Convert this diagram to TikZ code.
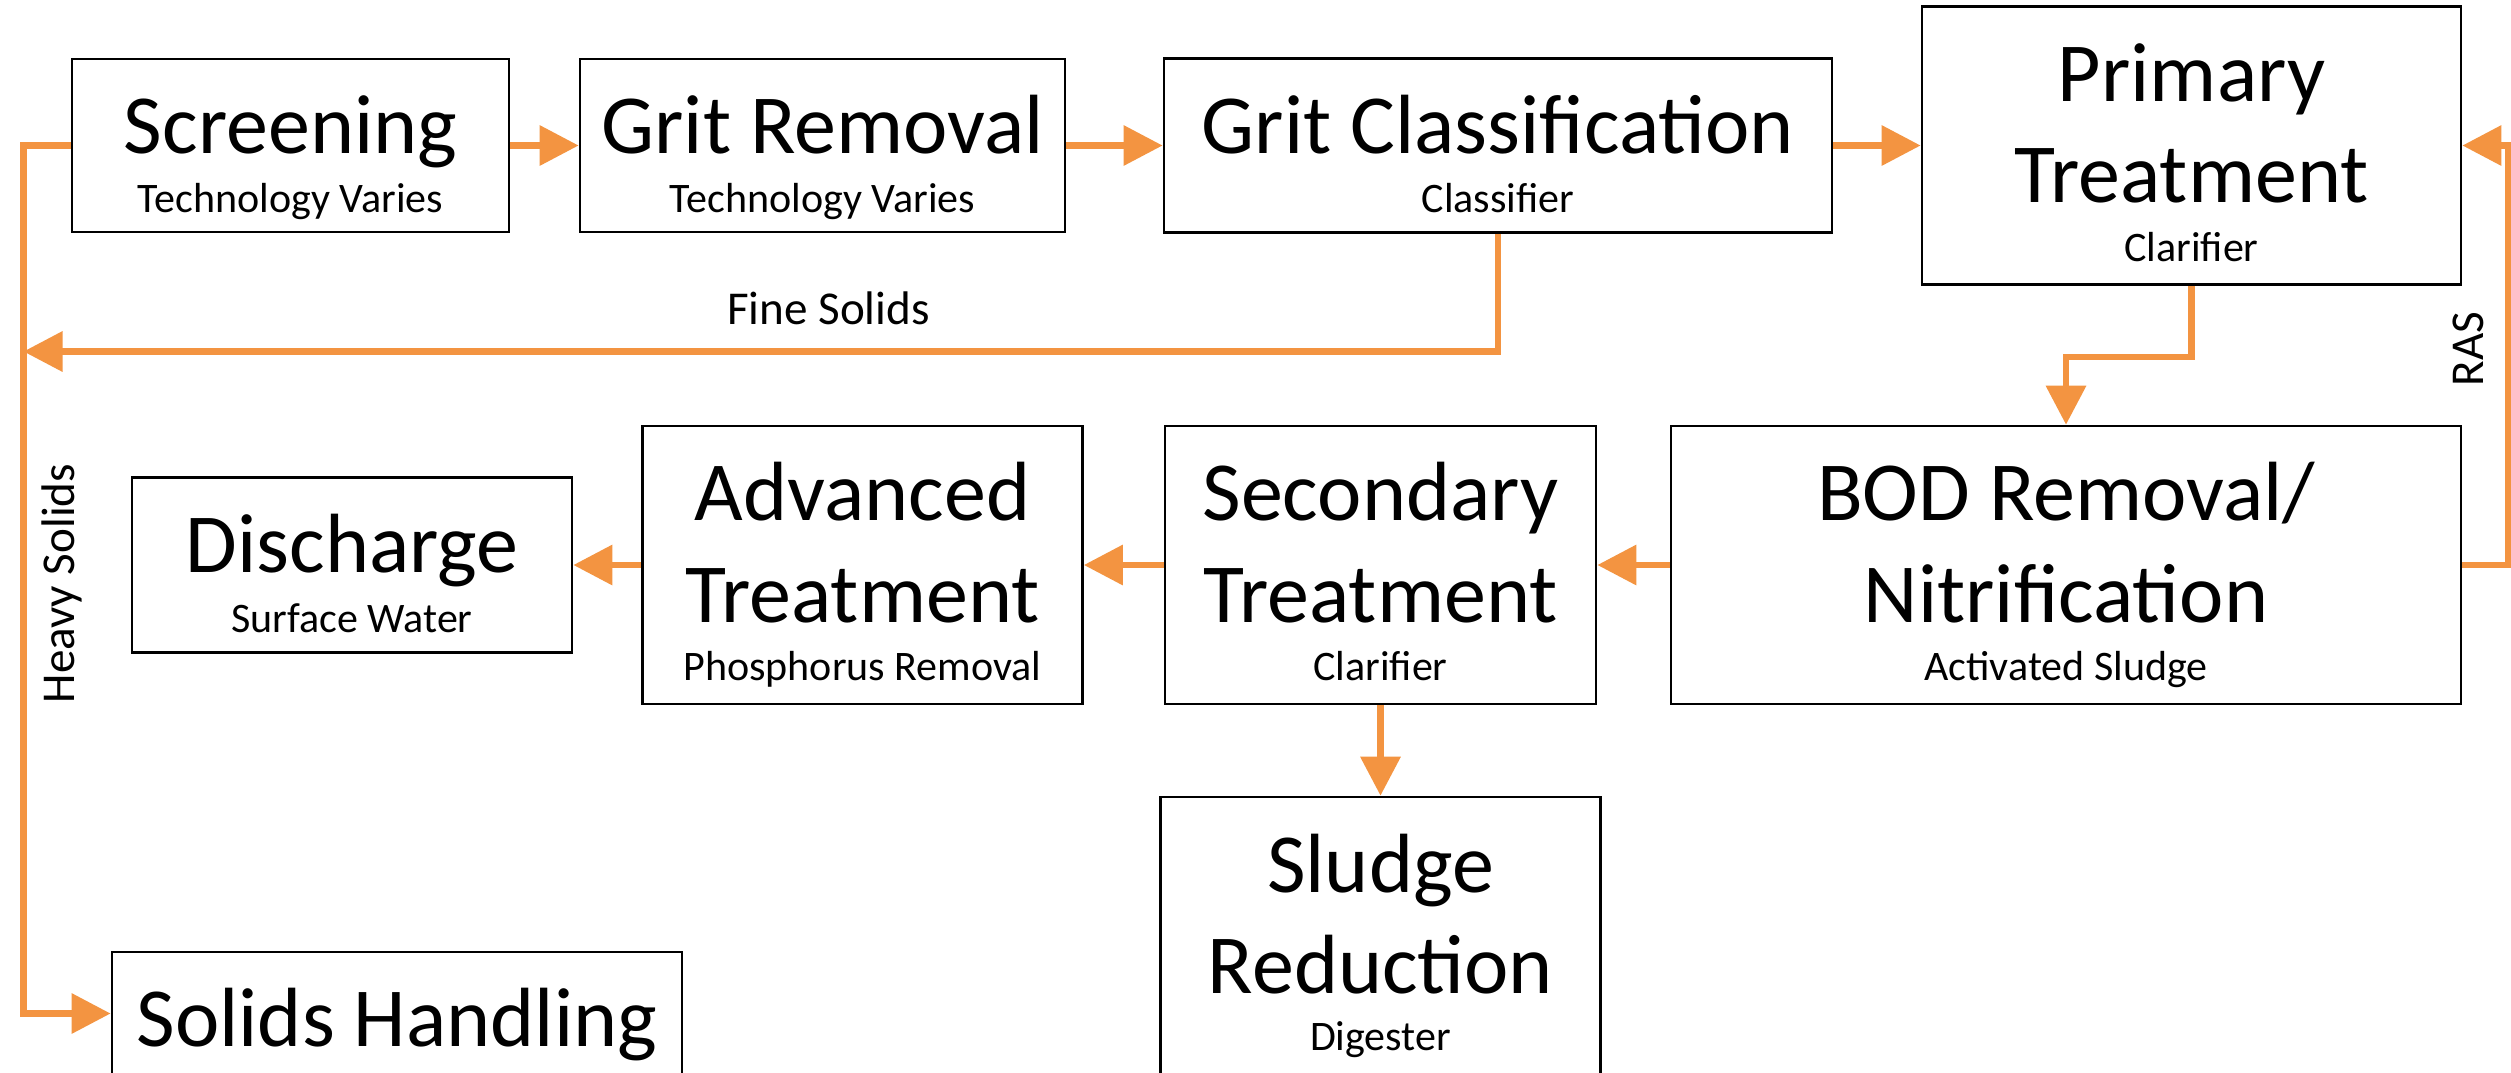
\documentclass[tikz,border=0pt]{standalone}
\usepackage{fontspec}
\setmainfont{Carlito}
\usetikzlibrary{arrows.meta}
\definecolor{flow}{RGB}{243,148,65}
\begin{document}
\begin{tikzpicture}[x=0.01cm,y=-0.01cm,
  box/.style={draw=black, line width=0.7pt, fill=white, inner sep=0pt, anchor=center},
  ttl/.style={anchor=base, inner sep=0pt, font=\fontsize{23.9}{28}\selectfont},
  sub/.style={anchor=base, inner sep=0pt, font=\fontsize{11.95}{14}\selectfont},
  lbl/.style={anchor=base, inner sep=0pt, font=\fontsize{13.4}{16}\selectfont},
  flowline/.style={draw=flow, line width=1.85pt, line join=miter},
  flowarrow/.style={flowline, -{Triangle[length=0.39cm,width=0.39cm]}}
]
\useasboundingbox (0,0) rectangle (2511,1072);
\clip (0,0) rectangle (2511,1072);
\fill[white] (0,0) rectangle (2511,1072);

% boxes
\node[box, minimum width=4.37cm, minimum height=1.73cm] (scr) at (290.5,145.5) {};
\node[box, minimum width=4.85cm, minimum height=1.73cm] (grm) at (822.5,145.5) {};
\node[box, minimum width=6.68cm, minimum height=1.74cm] (gcl) at (1498,145.5) {};
\node[box, minimum width=5.39cm, minimum height=2.78cm] (pri) at (2191.5,145.5) {};
\node[box, minimum width=4.40cm, minimum height=1.75cm] (dis) at (352,565) {};
\node[box, minimum width=4.40cm, minimum height=2.78cm] (adv) at (862.5,565) {};
\node[box, minimum width=4.31cm, minimum height=2.78cm] (sec) at (1380.5,565) {};
\node[box, minimum width=7.90cm, minimum height=2.78cm] (bod) at (2066,565) {};
\node[box, minimum width=4.40cm, minimum height=2.83cm] (slu) at (1380.5,938.5) {};
\node[box, minimum width=5.70cm, minimum height=1.23cm] (sol) at (397,1013.5) {};

% texts
\node[ttl] (scr-t) at (290.5,153) {Screening};
\node[sub] (scr-s) at (290.5,212.5) {Technology Varies};
\node[ttl] (grm-t) at (822.5,153) {Grit Removal};
\node[sub] (grm-s) at (822.5,212.5) {Technology Varies};
\node[ttl] (gcl-t) at (1498,153.5) {Grit Classification};
\node[sub] (gcl-s) at (1498,212) {Classifier};
\node[ttl] (pri-t1) at (2191.5,101.7) {Primary};
\node[ttl] (pri-t2) at (2191.5,202.7) {Treatment};
\node[sub] (pri-s) at (2191.5,261.7) {Clarifier};
\node[ttl] (dis-t) at (352,572) {Discharge};
\node[sub] (dis-s) at (352,632) {Surface Water};
\node[ttl] (adv-t1) at (862.5,520.6) {Advanced};
\node[ttl] (adv-t2) at (862.5,622.5) {Treatment};
\node[sub] (adv-s) at (862.5,680) {Phosphorus Removal};
\node[ttl] (sec-t1) at (1380.5,520.6) {Secondary};
\node[ttl] (sec-t2) at (1380.5,622.5) {Treatment};
\node[sub] (sec-s) at (1380.5,680) {Clarifier};
\node[ttl] (bod-t1) at (2066,520.6) {BOD Removal/};
\node[ttl] (bod-t2) at (2066,622.5) {Nitrification};
\node[sub] (bod-s) at (2066,680) {Activated Sludge};
\node[ttl] (slu-t1) at (1380.5,892) {Sludge};
\node[ttl] (slu-t2) at (1380.5,993) {Reduction};
\node[sub] (slu-s) at (1380.5,1050) {Digester};
\node[ttl] (sol-t) at (397,1046.7) {Solids Handling};

% labels
\node[lbl] (fine) at (828.5,324) {Fine Solids};
\node[lbl, rotate=90] (heavy) at (74,583.5) {Heavy Solids};
\node[lbl, rotate=90] (ras) at (2483,349) {RAS};

% connectors
\coordinate (fsend) at (23.5,351.5);
\coordinate (hcorner) at (23.5,1013.5);
\draw[flowarrow] (scr.east) -- (grm.west);
\draw[flowarrow] (grm.east) -- (gcl.west);
\draw[flowarrow] (gcl.east) -- (pri.west |- gcl.east);
\draw[flowarrow] (pri.south) -- ++(0,71) -| (bod.north);
\draw[flowarrow] (bod.east) -- ++(46,0) |- (pri.east);
\draw[flowarrow] (bod.west) -- (sec.east);
\draw[flowarrow] (sec.west) -- (adv.east);
\draw[flowarrow] (adv.west) -- (dis.east |- adv.west);
\draw[flowarrow] (sec.south) -- (slu.north);
\draw[flowarrow] (gcl.south) |- (fsend);
\draw[flowarrow] (scr.west) -| (hcorner) -- (sol.west);
\end{tikzpicture}
\end{document}
